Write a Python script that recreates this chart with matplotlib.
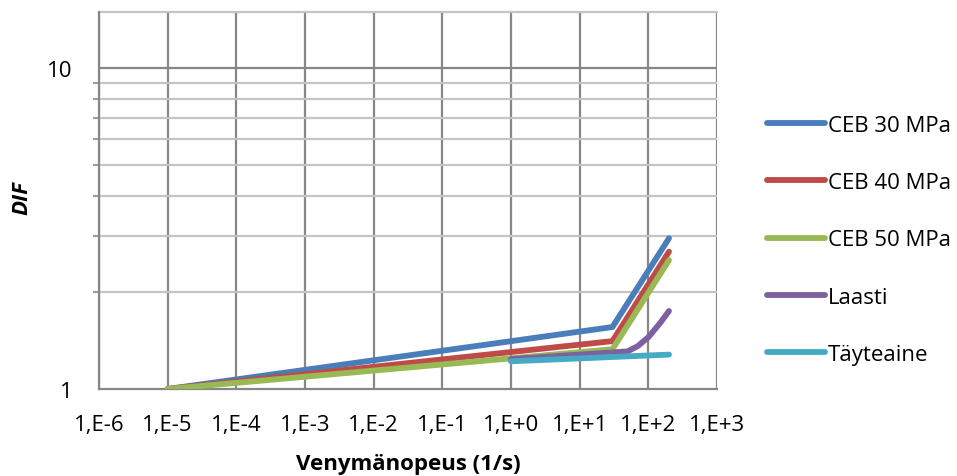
import numpy as np
import matplotlib
matplotlib.use("Agg")
import matplotlib.pyplot as plt
from matplotlib.ticker import FixedLocator, NullFormatter, FixedFormatter

plt.rcParams['font.family'] = ['Open Sans', 'DejaVu Sans']

# data (strain rate 1/s, DIF)
ceb30_x = [1e-5, 30, 200]
ceb30_y = [1.0, 1.56, 2.95]
ceb40_x = [1e-5, 30, 200]
ceb40_y = [1.0, 1.41, 2.68]
ceb50_x = [1e-5, 30, 200]
ceb50_y = [1.0, 1.33, 2.52]
laasti_x = [1, 10, 30, 50, 70, 100, 150, 200]
laasti_y = [1.24, 1.28, 1.30, 1.31, 1.36, 1.45, 1.61, 1.75]
tayte_x = [1, 200]
tayte_y = [1.22, 1.28]

series = [
    ("CEB 30 MPa", ceb30_x, ceb30_y, "#4A7EBB"),
    ("CEB 40 MPa", ceb40_x, ceb40_y, "#BE4B48"),
    ("CEB 50 MPa", ceb50_x, ceb50_y, "#98B954"),
    ("Laasti", laasti_x, laasti_y, "#7D60A0"),
    ("Täyteaine", tayte_x, tayte_y, "#46AAC5"),
]

x_ticks = [1e-6, 1e-5, 1e-4, 1e-3, 1e-2, 1e-1, 1e0, 1e1, 1e2, 1e3]
x_labels = ["1,E-6", "1,E-5", "1,E-4", "1,E-3", "1,E-2", "1,E-1",
            "1,E+0", "1,E+1", "1,E+2", "1,E+3"]
y_ticks = [1, 10]
y_labels = ["1", "10"]
y_minor = [2, 3, 4, 5, 6, 7, 8, 9]

fig = plt.figure(figsize=(9.57, 4.77), dpi=100)
ax = fig.add_axes([99 / 957, 1 - 390 / 477, (717 - 99) / 957, (390 - 13) / 477])

for name, xs, ys, col in series:
    ax.plot(xs, ys, color=col, lw=4.2, solid_capstyle='round',
            solid_joinstyle='round', label=name, zorder=3)

ax.set_xscale('log')
ax.set_yscale('log')
ax.set_xlim(1e-6, 1e3)
ax.set_ylim(1, 14.96)

ax.xaxis.set_major_locator(FixedLocator(x_ticks))
ax.xaxis.set_major_formatter(FixedFormatter(x_labels))
ax.xaxis.set_minor_locator(FixedLocator([]))
ax.yaxis.set_major_locator(FixedLocator(y_ticks))
ax.yaxis.set_major_formatter(FixedFormatter(y_labels))
ax.yaxis.set_minor_locator(FixedLocator(y_minor))
ax.yaxis.set_minor_formatter(NullFormatter())

# grid
for xv in x_ticks:
    ax.axvline(xv, color='#878787', lw=1.6, zorder=1)
ax.axhline(10, color='#878787', lw=1.6, zorder=1)
for yv in y_minor:
    ax.axhline(yv, color='#c4c4c4', lw=1.6, zorder=1)

for s in ['top', 'right']:
    ax.spines[s].set_visible(False)
ax.axhline(14.96, color='#c4c4c4', lw=1.6, zorder=1, clip_on=False)
ax.spines['left'].set_color('#878787')
ax.spines['left'].set_linewidth(1.6)
ax.spines['bottom'].set_color('#878787')
ax.spines['bottom'].set_linewidth(1.6)

ax.tick_params(axis='x', which='major', length=0, pad=18, labelsize=16)
ax.tick_params(axis='y', which='major', length=0, pad=19, labelsize=16)
ax.tick_params(axis='y', which='minor', length=4, direction='out', color='#878787', width=1.2)

ax.set_xlabel('Venymänopeus (1/s)', fontsize=16, fontweight='bold')
ax.set_ylabel('DIF', fontsize=16, fontweight='bold', fontstyle='italic')
ax.xaxis.set_label_coords(408 / 957, 1 - 465 / 477, transform=fig.transFigure)
ax.xaxis.label.set_va('center')
ax.yaxis.set_label_coords(22 / 957, 1 - 198 / 477, transform=fig.transFigure)
ax.yaxis.label.set_va('center')

leg = ax.legend(loc='upper left', bbox_to_anchor=(758 / 957, 1 - 107 / 477),
                bbox_transform=fig.transFigure, frameon=False, fontsize=16,
                handlelength=2.6, handletextpad=0.15, labelspacing=1.63,
                borderaxespad=0)

fig.savefig('out.png', dpi=100)
